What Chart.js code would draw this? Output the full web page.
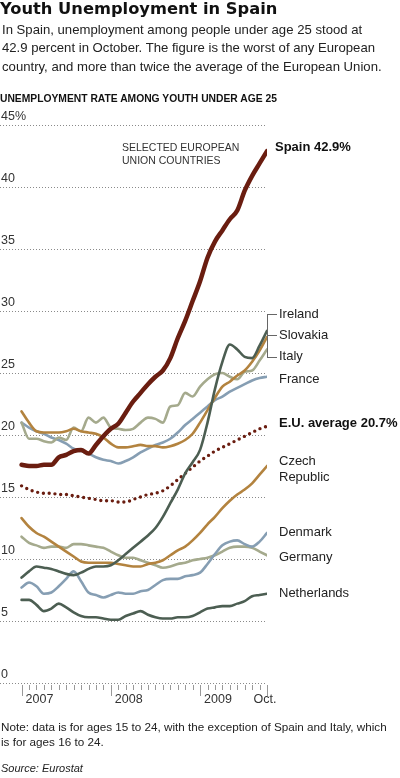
<!DOCTYPE html>
<html>
<head>
<meta charset="utf-8">
<script src="https://cdn.jsdelivr.net/npm/chart.js@4/dist/chart.umd.min.js"></script>
<style>
  html, body { margin: 0; padding: 0; background: #fff; }
  body { width: 400px; height: 778px; position: relative; overflow: hidden; font-family: "Liberation Sans", Arial, Helvetica, sans-serif; color: #222; }
  .t { position: absolute; white-space: nowrap; z-index: 2; }
  #title { left: 0; top: -1px; font-family: "DejaVu Sans", "Liberation Sans", sans-serif; font-size: 16.3px; line-height: 20px; font-weight: bold; color: #111; }
  #sub { left: 2px; top: 21px; font-size: 13.15px; line-height: 18.3px; color: #222; }
  #ytitle { left: 0; top: 93px; font-size: 10.3px; line-height: 12px; font-weight: bold; color: #111; }
  #sel { left: 122px; top: 141px; font-size: 10.5px; line-height: 13px; color: #333; }
  .lab { left: 279px; font-size: 13px; line-height: 16px; color: #222; }
  .b { font-weight: bold; color: #111; }
  #note { left: 1px; top: 720px; font-size: 11.7px; line-height: 14.5px; color: #222; }
  #src { left: 1px; top: 762px; font-size: 11px; line-height: 13px; font-style: italic; color: #222; }
  #bracket { position: absolute; left: 267px; top: 314px; width: 9px; height: 42px; border-left: 1px solid #666; border-top: 1px solid #666; border-bottom: 1px solid #666; z-index: 2; }
  #bracketMid { position: absolute; left: 267px; top: 335px; width: 10px; height: 0; border-top: 1px solid #666; z-index: 2; }
  #c { position: absolute; left: 0; top: 0; z-index: 1; }
</style>
</head>
<body>
<div class="t" id="title">Youth Unemployment in Spain</div>
<div class="t" id="sub">In Spain, unemployment among people under age 25 stood at<br>42.9 percent in October. The figure is the worst of any European<br>country, and more than twice the average of the European Union.</div>
<div class="t" id="ytitle">UNEMPLOYMENT RATE AMONG YOUTH UNDER AGE 25</div>
<div class="t" id="sel">SELECTED EUROPEAN<br>UNION COUNTRIES</div>

<div class="t lab b" style="left:275px; top:139px;">Spain 42.9%</div>
<div class="t lab" style="top:306px;">Ireland</div>
<div class="t lab" style="top:327px;">Slovakia</div>
<div class="t lab" style="top:348px;">Italy</div>
<div class="t lab" style="top:371px;">France</div>
<div class="t lab b" style="top:415px;">E.U. average 20.7%</div>
<div class="t lab" style="top:453px;">Czech<br>Republic</div>
<div class="t lab" style="top:524px;">Denmark</div>
<div class="t lab" style="top:549px;">Germany</div>
<div class="t lab" style="top:585px;">Netherlands</div>
<div id="bracket"></div>
<div id="bracketMid"></div>

<div class="t" id="note">Note: data is for ages 15 to 24, with the exception of Spain and Italy, which<br>is for ages 16 to 24.</div>
<div class="t" id="src">Source: Eurostat</div>

<canvas id="c" width="400" height="778"></canvas>

<script>
// ---- Data (monthly, Jan 2007 – Oct 2009) ----
const months = [
  'Jan 2007','Feb 2007','Mar 2007','Apr 2007','May 2007','Jun 2007','Jul 2007','Aug 2007','Sep 2007','Oct 2007','Nov 2007','Dec 2007',
  'Jan 2008','Feb 2008','Mar 2008','Apr 2008','May 2008','Jun 2008','Jul 2008','Aug 2008','Sep 2008','Oct 2008','Nov 2008','Dec 2008',
  'Jan 2009','Feb 2009','Mar 2009','Apr 2009','May 2009','Jun 2009','Jul 2009','Aug 2009','Sep 2009','Oct 2009'
];
const xTickLabels = ['2007', '2008', '2009', 'Oct.'];
const xTickMonths = ['Jan 2007', 'Jan 2008', 'Jan 2009', 'Oct 2009'];
const yTickValues = [0, 5, 10, 15, 20, 25, 30, 35, 40, 45];

const spain       = [17.6,17.5,17.5,17.6,17.6,18.2,18.4,18.7,18.8,18.5,19.2,19.9,20.5,20.9,21.8,22.7,23.4,24.1,24.7,25.2,26.2,27.8,29.2,30.8,32.4,34.3,35.6,36.5,37.4,38.1,39.7,40.9,41.9,42.9];
const ireland     = [8.5,9.0,9.4,9.3,9.2,9.0,8.8,8.7,8.9,9.2,9.4,9.4,9.5,9.9,10.4,10.9,11.4,11.9,12.5,13.4,14.5,15.6,16.9,17.8,18.8,21.0,23.7,25.9,27.3,26.9,26.3,26.2,27.2,28.4];
const slovakia    = [21.9,21.0,20.3,20.2,20.2,20.2,20.3,20.5,20.3,20.2,20.1,19.8,19.3,19.0,19.0,19.1,19.2,19.1,19.1,19.0,19.1,19.3,19.6,20.1,21.0,22.0,23.0,23.9,24.3,24.8,25.2,25.9,26.8,27.9];
const italy       = [21.0,19.7,19.7,19.5,19.4,19.8,19.6,20.6,20.3,21.4,21.0,21.4,20.6,20.5,20.4,20.5,21.0,21.4,21.3,21.0,22.3,22.4,23.4,23.1,23.9,24.5,24.9,25.0,24.7,24.5,25.1,25.2,26.0,26.9];
const france      = [21.0,20.6,20.3,20.1,19.8,19.6,19.3,18.9,18.7,18.5,18.2,18.0,17.9,17.7,17.9,18.2,18.6,18.9,19.2,19.4,19.7,20.2,20.8,21.3,21.8,22.3,22.8,23.1,23.5,23.8,24.1,24.4,24.6,24.7];
const euAverage   = [15.9,15.6,15.4,15.3,15.3,15.2,15.2,15.1,15.0,14.9,14.8,14.7,14.7,14.6,14.6,14.8,15.0,15.2,15.3,15.5,15.9,16.4,16.9,17.4,17.9,18.3,18.7,19.0,19.3,19.6,19.9,20.2,20.5,20.7];
const czech       = [13.3,12.6,12.1,11.8,11.4,11.0,10.6,10.2,9.8,9.7,9.7,9.7,9.7,9.6,9.5,9.4,9.4,9.6,9.7,9.9,10.3,10.7,11.0,11.5,12.1,12.8,13.4,14.1,14.7,15.2,15.6,16.1,16.8,17.5];
const denmark     = [7.7,8.1,7.8,7.2,7.3,7.8,8.4,9.0,8.2,7.3,7.1,6.9,7.1,7.3,7.2,7.2,7.4,7.5,7.9,8.3,8.4,8.4,8.6,8.7,8.9,9.6,10.4,11.1,11.4,11.5,11.2,11.0,11.4,12.1];
const germany     = [11.8,11.3,11.1,10.9,11.0,11.0,10.9,11.2,11.2,11.1,11.0,10.9,10.6,10.3,10.1,10.1,9.9,9.7,9.5,9.3,9.4,9.6,9.7,9.9,10.0,10.1,10.3,10.6,10.9,11.0,11.0,10.9,10.6,10.3];
const netherlands = [6.7,6.7,6.3,5.8,6.0,6.4,6.1,5.7,5.4,5.3,5.3,5.2,5.1,5.1,5.4,5.6,5.8,5.5,5.3,5.2,5.2,5.3,5.3,5.4,5.7,6.0,6.1,6.2,6.2,6.4,6.6,7.0,7.1,7.2];

// ---- Styles ----
const C_SPAIN = '#6a1d10';
const C_DARK  = '#4c5e52';
const C_GOLD  = '#b3833f';
const C_SAGE  = '#a5aa8d';
const C_BLUE  = '#869eb3';

const toPts = arr => arr.map((v, i) => ({ x: i, y: v }));
const ds = (label, data, color, width, extra) => Object.assign({
  label, data: toPts(data), borderColor: color, borderWidth: width,
  pointRadius: 0, fill: false, cubicInterpolationMode: 'monotone',
  borderJoinStyle: 'round', borderCapStyle: 'round'
}, extra || {});

const xAxisPlugin = {
  id: 'xAxisMarks',
  afterDraw(chart) {
    const { ctx, scales: { x, y } } = chart;
    const base = y.getPixelForValue(0);
    const majors = xTickMonths.map(m => months.indexOf(m));
    ctx.save();
    ctx.strokeStyle = '#999';
    ctx.lineWidth = 1;
    months.forEach((m, i) => {
      const px = Math.round(x.getPixelForValue(i)) + 0.5;
      const major = majors.includes(i);
      ctx.beginPath();
      ctx.moveTo(px, base + 2);
      ctx.lineTo(px, base + (major ? 13 : 7));
      ctx.stroke();
    });
    ctx.fillStyle = '#333';
    ctx.font = '12.5px "Liberation Sans", Arial, sans-serif';
    ctx.textBaseline = 'middle';
    majors.forEach((idx, k) => {
      const px = x.getPixelForValue(idx);
      const last = k === majors.length - 1;
      ctx.textAlign = last ? 'center' : 'left';
      ctx.fillText(xTickLabels[k], last ? px - 2 : px + 4, base + 17);
    });
    ctx.restore();
  }
};

new Chart(document.getElementById('c'), {
  type: 'line',
  data: {
    datasets: [
      ds('Spain', spain, C_SPAIN, 4.5),
      ds('Ireland', ireland, C_DARK, 2.6),
      ds('Slovakia', slovakia, C_GOLD, 2.6),
      ds('Italy', italy, C_SAGE, 2.6),
      ds('France', france, C_BLUE, 2.6),
      ds('E.U. average', euAverage, C_SPAIN, 3.4, { borderDash: [0, 5.8], borderCapStyle: 'round' }),
      ds('Czech Republic', czech, C_GOLD, 2.6),
      ds('Denmark', denmark, C_BLUE, 2.6),
      ds('Germany', germany, C_SAGE, 2.6),
      ds('Netherlands', netherlands, C_DARK, 2.6)
    ]
  },
  options: {
    responsive: false,
    devicePixelRatio: 1,
    animation: false,
    events: [],
    layout: { padding: { top: 125, bottom: 95, left: 0, right: 133 } },
    plugins: { legend: { display: false }, tooltip: { enabled: false } },
    scales: {
      x: {
        type: 'linear', min: -2.9, max: 33, display: false
      },
      y: {
        type: 'linear', min: 0, max: 45,
        afterBuildTicks: s => { s.ticks = yTickValues.map(v => ({ value: v })); },
        afterFit: s => { s.width = 0; },
        border: { display: false, dash: [1, 2] },
        grid: { color: '#8a8a8a', lineWidth: 1, drawTicks: false },
        ticks: {
          mirror: true, padding: 1, labelOffset: -8,
          color: '#333', font: { size: 12.5, family: '"Liberation Sans", Arial, sans-serif' },
          callback: v => (v === 45 ? '45%' : String(v))
        }
      }
    }
  },
  plugins: [xAxisPlugin]
});
</script>
</body>
</html>
